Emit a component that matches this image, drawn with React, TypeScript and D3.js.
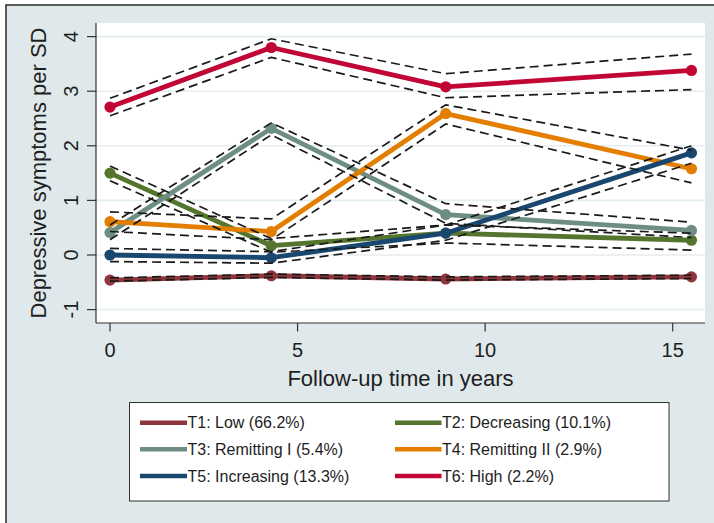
import React from "react";
import * as d3 from "d3";

// Follow-up waves (years since baseline)
const years = [0, 4.3, 8.95, 15.5];

// Trajectory labels and colours
const labels = [
  "T1: Low (66.2%)",
  "T2: Decreasing (10.1%)",
  "T3: Remitting I (5.4%)",
  "T4: Remitting II (2.9%)",
  "T5: Increasing (13.3%)",
  "T6: High (2.2%)",
];
const colors = ["#90353b", "#55752f", "#6e8e84", "#e37e00", "#1a476f", "#c10534"];

// Estimated mean depressive symptoms (SD units) per trajectory at each wave
const t1Mean = [-0.46, -0.38, -0.44, -0.4];
const t2Mean = [1.5, 0.17, 0.4, 0.27];
const t3Mean = [0.41, 2.32, 0.74, 0.45];
const t4Mean = [0.61, 0.43, 2.59, 1.58];
const t5Mean = [0.0, -0.05, 0.4, 1.87];
const t6Mean = [2.71, 3.8, 3.08, 3.38];

// Lower / upper 95% confidence limits
const t1Lo = [-0.48, -0.41, -0.46, -0.43];
const t1Hi = [-0.42, -0.35, -0.4, -0.37];
const t2Lo = [1.36, 0.05, 0.22, 0.09];
const t2Hi = [1.63, 0.3, 0.55, 0.4];
const t3Lo = [0.28, 2.2, 0.58, 0.32];
const t3Hi = [0.55, 2.42, 0.94, 0.6];
const t4Lo = [0.43, 0.28, 2.4, 1.32];
const t4Hi = [0.79, 0.66, 2.75, 1.92];
const t5Lo = [-0.12, -0.15, 0.27, 1.68];
const t5Hi = [0.12, 0.06, 0.55, 2.0];
const t6Lo = [2.55, 3.62, 2.88, 3.03];
const t6Hi = [2.87, 3.96, 3.32, 3.68];

const xTicks = [0, 5, 10, 15];
const yTicks = [-1, 0, 1, 2, 3, 4];

const means = [t1Mean, t2Mean, t3Mean, t4Mean, t5Mean, t6Mean];
const lows = [t1Lo, t2Lo, t3Lo, t4Lo, t5Lo, t6Lo];
const highs = [t1Hi, t2Hi, t3Hi, t4Hi, t5Hi, t6Hi];

const W = 714;
const H = 523;
const plot = { left: 96, right: 705, top: 23, bottom: 323 };
const FONT = "'Liberation Sans', Arial, Helvetica, sans-serif";
const TEXT = "#1e1e1e";
const BG = "#dfe8ea";

export default function App() {
  const x = d3.scaleLinear().domain([0, 15]).range([110, 672.7]);
  const y = d3.scaleLinear().domain([0, 4]).range([255, 36.6]);

  const line = d3
    .line<[number, number]>()
    .x((d) => x(d[0]))
    .y((d) => y(d[1]));

  const pts = (vals: number[]) => years.map((t, i) => [t, vals[i]] as [number, number]);

  const legendRows = [0, 1, 2];
  const legendCols = [
    { lx0: 140, lx1: 187, tx: 187.5 },
    { lx0: 395, lx1: 441.5, tx: 442 },
  ];
  const rowY = [422.7, 449.3, 476];

  return (
    <svg
      width={W}
      height={H}
      style={{ position: "absolute", left: 0, top: 0, fontFamily: FONT }}
    >
      <rect x={0} y={0} width={W} height={H} fill="#ffffff" />
      <rect x={6} y={5} width={W + 10} height={H + 10} fill={BG} stroke="#2a2a2a" strokeWidth={1.5} />
      <rect
        x={plot.left}
        y={plot.top}
        width={plot.right - plot.left}
        height={plot.bottom - plot.top}
        fill="#ffffff"
      />

      {/* gridlines */}
      {yTicks.map((v) => (
        <line
          key={"g" + v}
          x1={plot.left}
          x2={plot.right}
          y1={y(v)}
          y2={y(v)}
          stroke="#e4edef"
          strokeWidth={1.6}
        />
      ))}

      {/* trajectories */}
      {means.map((m, i) => (
        <g key={"s" + i}>
          <path d={line(pts(m)) || ""} fill="none" stroke={colors[i]} strokeWidth={4.8} strokeLinejoin="round" />
          {pts(m).map((p, j) => (
            <circle key={j} cx={x(p[0])} cy={y(p[1])} r={5.6} fill={colors[i]} />
          ))}
        </g>
      ))}

      {/* confidence limits */}
      {lows.map((lo, i) => (
        <g key={"ci" + i} fill="none" stroke="#1a1a1a" strokeWidth={1.7} strokeDasharray="9,5">
          <path d={line(pts(lo)) || ""} />
          <path d={line(pts(highs[i])) || ""} />
        </g>
      ))}

      {/* y axis */}
      <line x1={plot.left} x2={plot.left} y1={plot.top} y2={plot.bottom} stroke="#333" strokeWidth={1.2} />
      {yTicks.map((v) => (
        <g key={"yt" + v}>
          <line x1={87} x2={plot.left} y1={y(v)} y2={y(v)} stroke="#333" strokeWidth={1.2} />
          <text
            transform={`translate(78,${y(v)}) rotate(-90)`}
            textAnchor="middle"
            fontSize={20}
            fill={TEXT}
          >
            {v}
          </text>
        </g>
      ))}
      <text
        transform={`translate(45.5,173) rotate(-90)`}
        textAnchor="middle"
        fontSize={22}
        fill={TEXT}
      >
        Depressive symptoms per SD
      </text>

      {/* x axis */}
      <line x1={plot.left} x2={plot.right} y1={plot.bottom} y2={plot.bottom} stroke="#333" strokeWidth={1.2} />
      {xTicks.map((v) => (
        <g key={"xt" + v}>
          <line x1={x(v)} x2={x(v)} y1={plot.bottom} y2={331.5} stroke="#333" strokeWidth={1.2} />
          <text x={x(v)} y={356.5} textAnchor="middle" fontSize={20} fill={TEXT}>
            {v}
          </text>
        </g>
      ))}
      <text x={400.5} y={385.7} textAnchor="middle" fontSize={22} fill={TEXT}>
        Follow-up time in years
      </text>

      {/* legend */}
      <rect x={129.5} y={402.5} width={539.5} height={98.5} fill="#ffffff" stroke="#333" strokeWidth={1} />
      {legendRows.map((r) =>
        legendCols.map((c, ci) => {
          const k = r * 2 + ci;
          return (
            <g key={"lg" + k}>
              <line x1={c.lx0} x2={c.lx1} y1={rowY[r]} y2={rowY[r]} stroke={colors[k]} strokeWidth={4.5} />
              <text x={c.tx} y={rowY[r] + 5.6} fontSize={16} fill={TEXT}>
                {labels[k]}
              </text>
            </g>
          );
        })
      )}
    </svg>
  );
}
